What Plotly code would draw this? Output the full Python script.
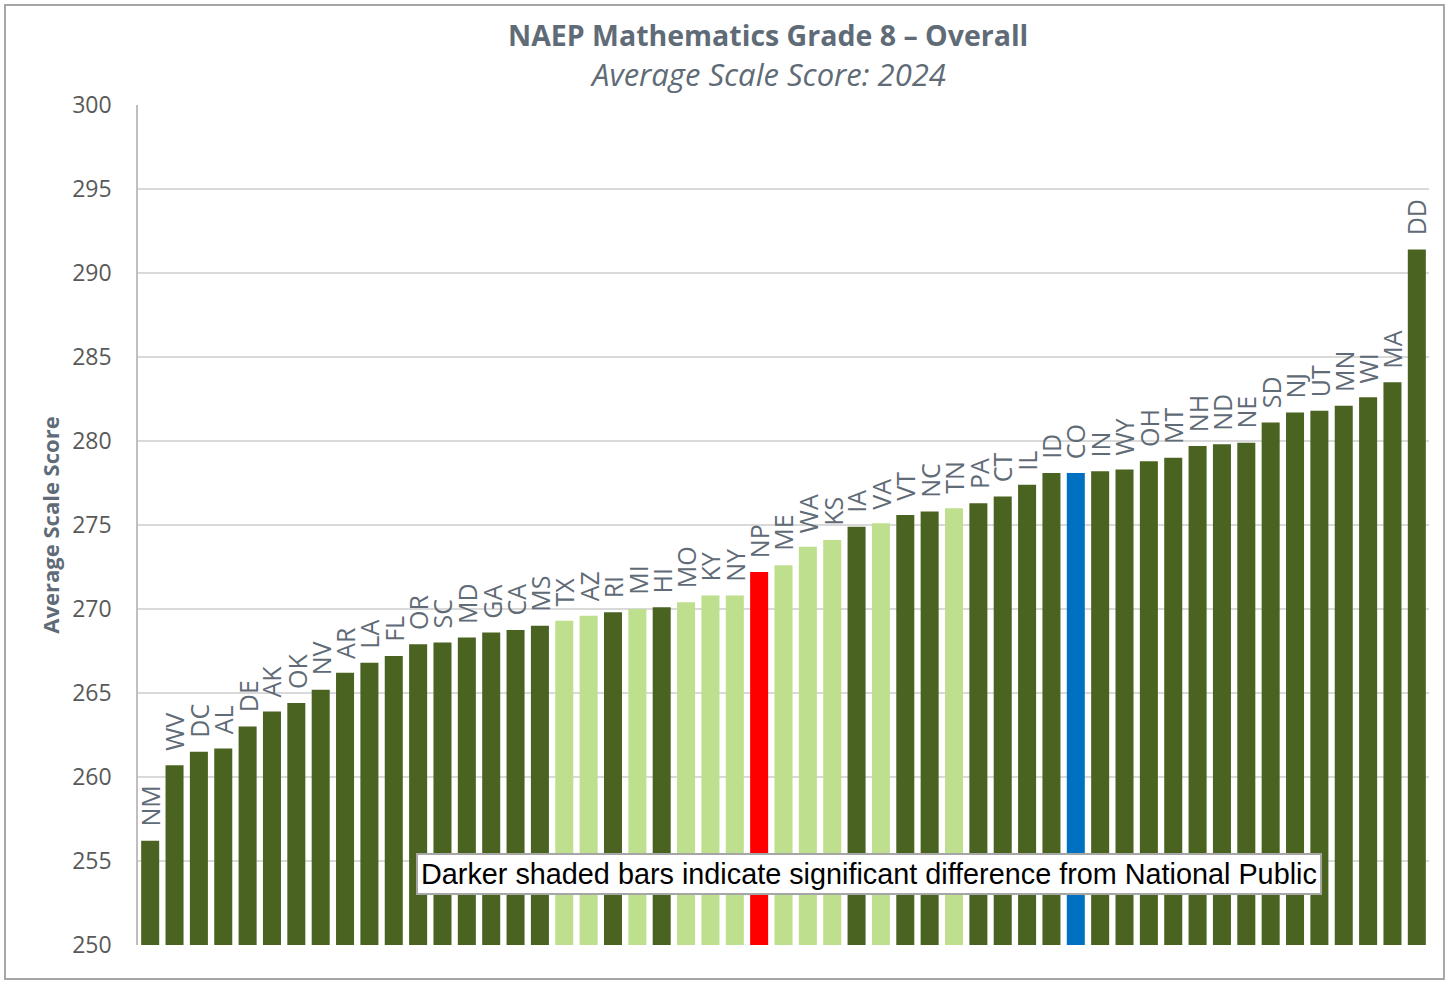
import plotly.graph_objects as go

states = ["NM","WV","DC","AL","DE","AK","OK","NV","AR","LA","FL","OR","SC","MD","GA","CA","MS",
          "TX","AZ","RI","MI","HI","MO","KY","NY","NP","ME","WA","KS","IA","VA","VT","NC","TN",
          "PA","CT","IL","ID","CO","IN","WY","OH","MT","NH","ND","NE","SD","NJ","UT","MN","WI","MA","DD"]
scores = [256.2,260.7,261.5,261.7,263.0,263.9,264.4,265.2,266.2,266.8,267.2,267.9,268.0,268.3,268.6,268.75,269.0,
          269.3,269.6,269.8,270.0,270.1,270.4,270.8,270.8,272.2,272.6,273.7,274.1,274.9,275.1,275.6,275.8,276.0,
          276.3,276.7,277.4,278.1,278.1,278.2,278.3,278.8,279.0,279.7,279.8,279.9,281.1,281.7,281.8,282.1,282.6,283.5,291.4]
not_significant = ["TX","AZ","MI","MO","KY","NY","ME","WA","KS","VA","TN"]

DARK = "#4a6320"
LIGHT = "#bedf8e"
colors = []
for s in states:
    if s == "NP":
        colors.append("#ff0000")
    elif s == "CO":
        colors.append("#0070c0")
    elif s in not_significant:
        colors.append(LIGHT)
    else:
        colors.append(DARK)

gray = "#5f6b76"

fig = go.Figure(go.Bar(
    x=states, y=scores, marker=dict(color=colors, line=dict(width=0)),
    hoverinfo="x+y",
))

annotations = []
for s, v in zip(states, scores):
    annotations.append(dict(
        x=s, y=v, xref="x", yref="y", text=s, textangle=-90, showarrow=False,
        xanchor="center", yanchor="bottom", yshift=12,
        font=dict(family="Open Sans, sans-serif", size=25, color=gray)))

annotations += [
    dict(text="<b>NAEP Mathematics Grade 8 – Overall</b>", xref="paper", yref="paper",
         x=(768-138)/1291, y=(945-35)/840, xanchor="center", yanchor="middle", showarrow=False,
         font=dict(size=28.5, color=gray)),
    dict(text="<i>Average Scale Score: 2024</i>", xref="paper", yref="paper",
         x=(768-138)/1291, y=(945-74)/840, xanchor="center", yanchor="middle", showarrow=False,
         font=dict(size=31, color=gray)),
    dict(text="Darker shaded bars indicate significant difference from National Public",
         xref="paper", yref="paper", x=(869-138)/1291, y=(945-874)/840,
         xanchor="center", yanchor="middle", showarrow=False,
         font=dict(family="Liberation Sans, Arial, sans-serif", size=28.8, color="black"),
         bgcolor="white", bordercolor="#a6a6a6", borderwidth=2, borderpad=3),
]

fig.update_layout(
    width=1449, height=982,
    margin=dict(l=138, r=20, t=105, b=37),
    paper_bgcolor="white", plot_bgcolor="white",
    bargap=0.26, showlegend=False,
    font=dict(family="Open Sans, sans-serif", color="#595959"),
    xaxis=dict(showticklabels=False, showgrid=False, zeroline=False, showline=False, ticks="",
               range=[-0.5, len(states) - 0.5]),
    yaxis=dict(range=[250, 300], dtick=5, showgrid=True, gridcolor="#d9d9d9", gridwidth=1.5,
               zeroline=False, showline=True, linecolor="#bfbfbf", linewidth=1.5,
               tickfont=dict(size=23, color="#595959"), ticks="", ticklen=0, ticklabelstandoff=20,
               title=dict(text="<b>Average Scale Score</b>", font=dict(size=22, color=gray), standoff=6)),
    shapes=[dict(type="rect", xref="paper", yref="paper", x0=-0.1030, x1=1.0116, y0=-0.0405, y1=1.119,
                 line=dict(color="#a6a6a6", width=2), fillcolor="rgba(0,0,0,0)", layer="below")],
    annotations=annotations,
)

fig.write_html("out.html", config={"displayModeBar": False},
               post_script="document.body.style.margin='0';")
